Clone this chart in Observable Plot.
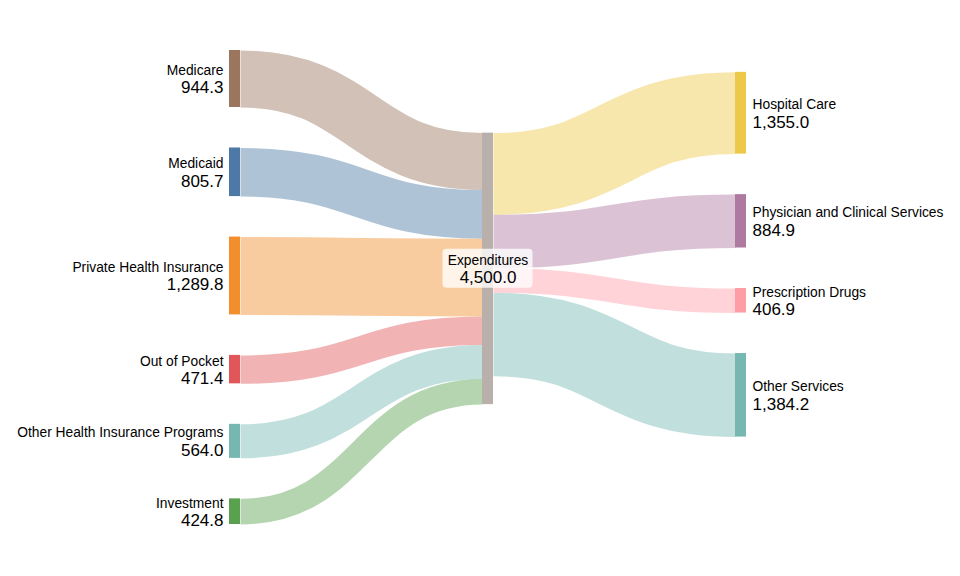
<!DOCTYPE html>
<html><head><meta charset="utf-8">
<script src="https://cdn.jsdelivr.net/npm/d3@7"></script>
<script src="https://cdn.jsdelivr.net/npm/@observablehq/plot@0.6"></script>
<style>body{margin:0;background:#fff;}</style>
</head><body><div id="chart"></div>
<script>
// ---- data ----
const sourceNames = ["Medicare", "Medicaid", "Private Health Insurance", "Out of Pocket", "Other Health Insurance Programs", "Investment"];
const sourceValues = [944.3, 805.7, 1289.8, 471.4, 564.0, 424.8];
const hubName = "Expenditures";
const useNames = ["Hospital Care", "Physician and Clinical Services", "Prescription Drugs", "Other Services"];
const useValues = [1355.0, 884.9, 406.9, 1384.2];
const sourceColors = ["#9c755f", "#4e79a7", "#f28e2c", "#e15759", "#76b7b2", "#59a14f"];
const hubColor = "#bab0ab";
const useColors = ["#edc949", "#af7aa1", "#ff9da7", "#76b7b2"];

// ---- sankey layout (d3-sankey algorithm) ----
function layoutSankey(nodes, links, opt) {
  const {x0, x1, y0, y1, nodeWidth: dx, nodePadding: dy, iterations} = opt;
  for (const n of nodes) { n.sourceLinks = []; n.targetLinks = []; }
  for (const l of links) { l.source.sourceLinks.push(l); l.target.targetLinks.push(l); }
  for (const n of nodes) n.value = Math.max(d3.sum(n.sourceLinks, l => l.value), d3.sum(n.targetLinks, l => l.value));
  let current = new Set(nodes), next = new Set(), d = 0;
  while (current.size) {
    for (const n of current) { n.depth = d; for (const l of n.sourceLinks) next.add(l.target); }
    d++; current = next; next = new Set();
  }
  const maxLayer = d3.max(nodes, n => n.depth);
  for (const n of nodes) n.layer = n.sourceLinks.length ? n.depth : maxLayer;
  const kx = (x1 - x0 - dx) / maxLayer;
  const columns = Array.from({length: maxLayer + 1}, () => []);
  for (const n of nodes) { n.x0 = x0 + n.layer * kx; n.x1 = n.x0 + dx; columns[n.layer].push(n); }
  const py = Math.min(dy, (y1 - y0) / (d3.max(columns, c => c.length) - 1));

  const asc = (a, b) => a.y0 - b.y0;
  const ascT = (a, b) => asc(a.target, b.target) || 0;
  const ascS = (a, b) => asc(a.source, b.source) || 0;
  function reorderLinks(ns) { for (const {sourceLinks, targetLinks} of ns) { sourceLinks.sort(ascT); targetLinks.sort(ascS); } }
  function reorderNodeLinks({sourceLinks, targetLinks}) {
    for (const {source: {sourceLinks}} of targetLinks) sourceLinks.sort(ascT);
    for (const {target: {targetLinks}} of sourceLinks) targetLinks.sort(ascS);
  }
  const ky = d3.min(columns, c => (y1 - y0 - (c.length - 1) * py) / d3.sum(c, n => n.value));
  for (const ns of columns) {
    let y = y0;
    for (const n of ns) {
      n.y0 = y; n.y1 = y + n.value * ky; y = n.y1 + py;
      for (const l of n.sourceLinks) l.width = l.value * ky;
    }
    y = (y1 - y + py) / (ns.length + 1);
    ns.forEach((n, i) => { n.y0 += y * (i + 1); n.y1 += y * (i + 1); });
    reorderLinks(ns);
  }
  function targetTop(source, target) {
    let y = source.y0 - (source.sourceLinks.length - 1) * py / 2;
    for (const {target: node, width} of source.sourceLinks) { if (node === target) break; y += width + py; }
    for (const {source: node, width} of target.targetLinks) { if (node === source) break; y -= width; }
    return y;
  }
  function sourceTop(source, target) {
    let y = target.y0 - (target.targetLinks.length - 1) * py / 2;
    for (const {source: node, width} of target.targetLinks) { if (node === source) break; y += width + py; }
    for (const {target: node, width} of source.sourceLinks) { if (node === target) break; y -= width; }
    return y;
  }
  function topToBottom(ns, y, i, alpha) {
    for (; i < ns.length; ++i) { const n = ns[i]; const dd = (y - n.y0) * alpha; if (dd > 1e-6) n.y0 += dd, n.y1 += dd; y = n.y1 + py; }
  }
  function bottomToTop(ns, y, i, alpha) {
    for (; i >= 0; --i) { const n = ns[i]; const dd = (n.y1 - y) * alpha; if (dd > 1e-6) n.y0 -= dd, n.y1 -= dd; y = n.y0 - py; }
  }
  function resolveCollisions(ns, alpha) {
    const i = ns.length >> 1, s = ns[i];
    bottomToTop(ns, s.y0 - py, i - 1, alpha);
    topToBottom(ns, s.y1 + py, i + 1, alpha);
    bottomToTop(ns, y1, ns.length - 1, alpha);
    topToBottom(ns, y0, 0, alpha);
  }
  function relaxLeftToRight(alpha, beta) {
    for (let i = 1; i < columns.length; ++i) {
      const col = columns[i];
      for (const target of col) {
        let y = 0, w = 0;
        for (const {source, value} of target.targetLinks) {
          const v = value * (target.layer - source.layer);
          y += targetTop(source, target) * v; w += v;
        }
        if (!(w > 0)) continue;
        const dd = (y / w - target.y0) * alpha;
        target.y0 += dd; target.y1 += dd;
        reorderNodeLinks(target);
      }
      col.sort(asc);
      resolveCollisions(col, beta);
    }
  }
  function relaxRightToLeft(alpha, beta) {
    for (let i = columns.length - 2; i >= 0; --i) {
      const col = columns[i];
      for (const source of col) {
        let y = 0, w = 0;
        for (const {target, value} of source.sourceLinks) {
          const v = value * (target.layer - source.layer);
          y += sourceTop(source, target) * v; w += v;
        }
        if (!(w > 0)) continue;
        const dd = (y / w - source.y0) * alpha;
        source.y0 += dd; source.y1 += dd;
        reorderNodeLinks(source);
      }
      col.sort(asc);
      resolveCollisions(col, beta);
    }
  }
  for (let i = 0; i < iterations; ++i) {
    const alpha = Math.pow(0.99, i);
    const beta = Math.max(1 - alpha, (i + 1) / iterations);
    relaxRightToLeft(alpha, beta);
    relaxLeftToRight(alpha, beta);
  }
  for (const n of nodes) { n.sourceLinks.sort(ascT); n.targetLinks.sort(ascS); }
  for (const n of nodes) {
    let a = n.y0, b = n.y0;
    for (const l of n.sourceLinks) { l.y0 = a + l.width / 2; a += l.width; }
    for (const l of n.targetLinks) { l.y1 = b + l.width / 2; b += l.width; }
  }
  return {nodes, links};
}

// ---- build graph from the arrays ----
const hub = {name: hubName, color: hubColor, side: "hub"};
const srcNodes = sourceNames.map((name, i) => ({name, color: sourceColors[i], side: "left"}));
const useNodes = useNames.map((name, i) => ({name, color: useColors[i], side: "right"}));
const nodes = [...srcNodes, hub, ...useNodes];
const links = [
  ...srcNodes.map((n, i) => ({source: n, target: hub, value: sourceValues[i], color: n.color})),
  ...useNodes.map((n, i) => ({source: hub, target: n, value: useValues[i], color: n.color}))
];
layoutSankey(nodes, links, {x0: 229, x1: 746, y0: 50, y1: 524, nodeWidth: 11, nodePadding: 40.5, iterations: 1});

const fmt = d3.format(",.1f");
const font = "'Liberation Sans', Arial, Helvetica, sans-serif";
const cy = d => (d.y0 + d.y1) / 2;
const cx = d => (d.x0 + d.x1) / 2;
const left = nodes.filter(n => n.side === "left");
const right = nodes.filter(n => n.side === "right");
const mid = nodes.filter(n => n.side === "hub");

const chart = Plot.plot({
  width: 960, height: 576,
  margin: 0,
  x: {type: "identity", axis: null},
  y: {type: "identity", axis: null},
  color: {type: "identity"},
  style: {fontFamily: font, background: "#fff", color: "#000"},
  marks: [
    Plot.link(links, {
      x1: d => d.source.x1, y1: d => d.y0, x2: d => d.target.x0, y2: d => d.y1,
      curve: "bump-x", stroke: "color", strokeOpacity: 0.45, strokeWidth: d => Math.max(1, d.width)
    }),
    Plot.rect(nodes, {x1: "x0", x2: "x1", y1: "y0", y2: "y1", fill: "color"}),
    Plot.text(left, {x: d => d.x0 - 6, y: cy, text: "name", textAnchor: "end", dy: -8.5, fontSize: 13.8, fill: "#000"}),
    Plot.text(left, {x: d => d.x0 - 6, y: cy, text: d => fmt(d.value), textAnchor: "end", dy: 9, fontSize: 17, fill: "#000"}),
    Plot.text(right, {x: d => d.x1 + 6, y: cy, text: "name", textAnchor: "start", dy: -8.5, fontSize: 13.8, fill: "#000"}),
    Plot.text(right, {x: d => d.x1 + 6, y: cy, text: d => fmt(d.value), textAnchor: "start", dy: 9, fontSize: 17, fill: "#000"}),
    Plot.rect(mid, {x1: d => cx(d) - 45, x2: d => cx(d) + 45, y1: d => cy(d) - 19.5, y2: d => cy(d) + 19.5, fill: "#fff", fillOpacity: 0.78, rx: 4}),
    Plot.text(mid, {x: cx, y: cy, text: "name", textAnchor: "middle", dy: -8.5, fontSize: 13.8, fill: "#000"}),
    Plot.text(mid, {x: cx, y: cy, text: d => fmt(d.value), textAnchor: "middle", dy: 8.5, fontSize: 17, fill: "#000"})
  ]
});
document.getElementById("chart").append(chart);
</script>
</body></html>
